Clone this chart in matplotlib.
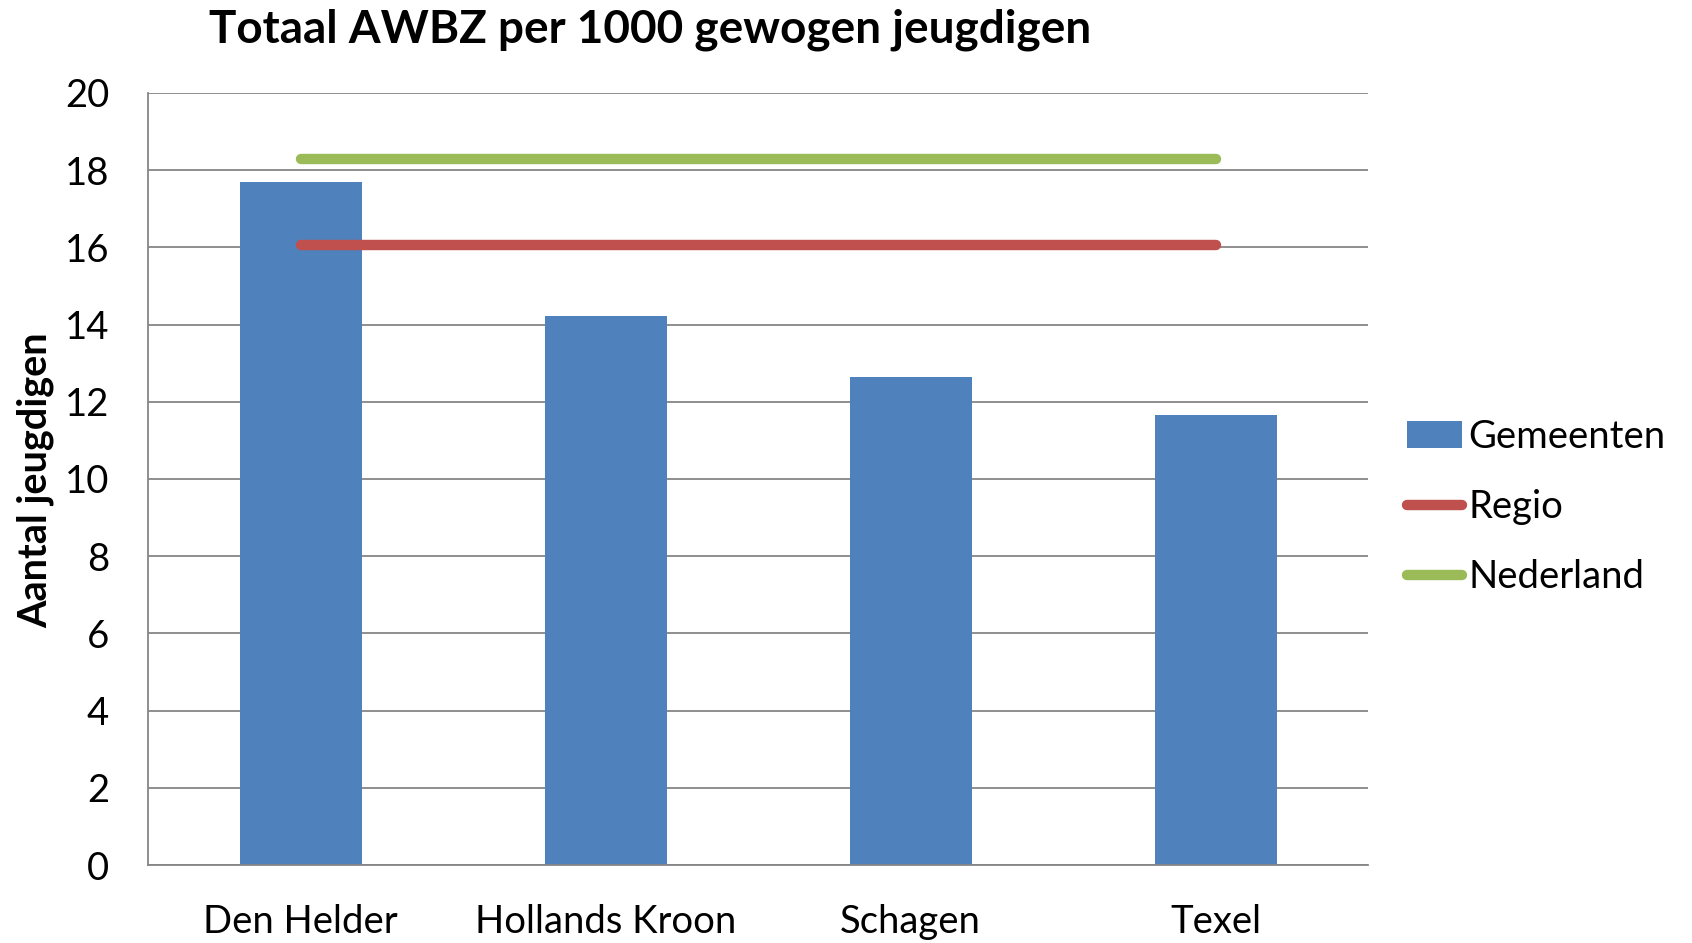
import matplotlib
matplotlib.use("Agg")
import matplotlib.pyplot as plt
import numpy as np

categories = ["Den Helder", "Hollands Kroon", "Schagen", "Texel"]
gemeenten = [17.7, 14.22, 12.65, 11.65]
regio = [16.06, 16.06, 16.06, 16.06]
nederland = [18.3, 18.3, 18.3, 18.3]
yticks = [0, 2, 4, 6, 8, 10, 12, 14, 16, 18, 20]

plt.rcParams['font.family'] = ['Lato', 'DejaVu Sans']

W, H = 1692, 943
fig = plt.figure(figsize=(W/100, H/100), dpi=100)
ax = fig.add_axes([148/W, 1-865/H, (1368-148)/W, (865-93)/H])

x = np.arange(len(categories))
b = ax.bar(x, gemeenten, width=0.4, color="#4F81BD", label="Gemeenten", zorder=2)
l1, = ax.plot(x, regio, color="#C0504D", lw=7.5, solid_capstyle="round", label="Regio", zorder=3)
l2, = ax.plot(x, nederland, color="#9BBB59", lw=7.5, solid_capstyle="round", label="Nederland", zorder=3)

ax.set_xlim(-0.5, len(categories)-0.5)
ax.set_ylim(0, 20)
ax.set_yticks(yticks)
ax.set_xticks(x)
ax.set_xticklabels(categories)
ax.yaxis.grid(True, color="#868686", lw=1.3, zorder=0)
ax.set_axisbelow(True)
for s in ["top", "right"]:
    ax.spines[s].set_visible(False)
for s in ["left", "bottom"]:
    ax.spines[s].set_color("#868686")
    ax.spines[s].set_linewidth(1.3)
ax.tick_params(axis="both", length=0, labelsize=27.5)
ax.tick_params(axis="x", pad=28)
ax.tick_params(axis="y", pad=28)

fig.text(35/W, 1-480/H, "Aantal jeugdigen", fontsize=28.5, fontweight="bold",
         rotation=90, ha="center", va="center")
fig.text(650/W, 1-30/H, "Totaal AWBZ per 1000 gewogen jeugdigen", fontsize=33,
         fontweight="bold", ha="center", va="center")

leg = fig.legend(handles=[b, l1, l2], labels=["Gemeenten", "Regio", "Nederland"],
                 loc="center left", bbox_to_anchor=(1407/W, 1-507/H), frameon=False,
                 fontsize=27.5, handlelength=1.45, handletextpad=0.15, labelspacing=0.9,
                 borderpad=0, borderaxespad=0)

fig.savefig("out.png", dpi=100)
